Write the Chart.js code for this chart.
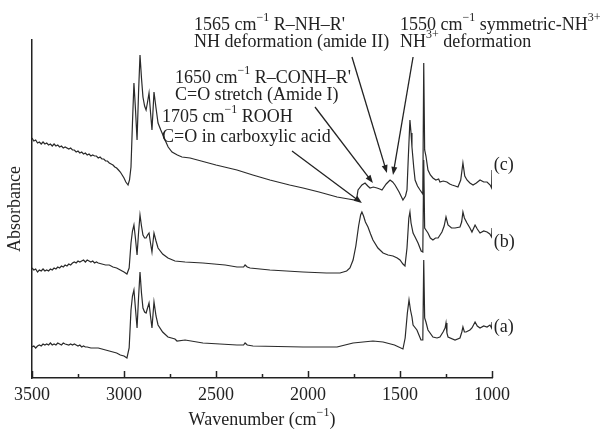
<!DOCTYPE html>
<html>
<head>
<meta charset="utf-8">
<script src="https://cdn.jsdelivr.net/npm/chart.js@4/dist/chart.umd.min.js"></script>
<style>
  body { margin: 0; background: #fff; }
</style>
</head>
<body>
<canvas id="myChart" width="607" height="432"></canvas>
<script>
//--Spectra data (wavenumber cm-1 / absorbance a.u.)--//
const waveC = [3500,3490,3480,3470,3460,3450,3440,3430,3420,3410,3400,3390,3380,3370,3360,3350,3340,3330,3320,3300,3290,3280,3270,3260,3250,3240,3230,3220,3210,3200,3190,3180,3170,3160,3150,3140,3130,3120,3110,3100,3090,3080,3070,3060,3050,3040,3030,3020,3010,3000,2990,2978,2970,2962,2954,2946,2938,2929,2921,2913,2905,2897,2888,2880,2872,2864,2856,2848,2843,2837,2826,2815,2800,2777,2760,2739,2710,2685,2641,2500,2386,2300,2207,2100,2027,1940,1842,1780,1745,1735,1728,1707,1690,1675,1663,1645,1625,1610,1598,1575,1554,1540,1527,1505,1484,1470,1462,1455,1446,1440,1435,1425,1418,1405,1391,1376,1371,1366,1359,1348,1335,1321,1305,1290,1283,1265,1245,1230,1217,1200,1185,1170,1158,1148,1136,1120,1103,1085,1065,1045,1027,1010,1002,1000];
const absC = [2.40,2.37,2.38,2.35,2.36,2.34,2.36,2.34,2.35,2.33,2.34,2.32,2.34,2.32,2.33,2.31,2.32,2.30,2.31,2.29,2.30,2.28,2.28,2.26,2.27,2.25,2.26,2.24,2.25,2.23,2.24,2.22,2.23,2.22,2.22,2.20,2.21,2.19,2.19,2.17,2.17,2.15,2.14,2.13,2.11,2.10,2.08,2.06,2.03,2.00,1.96,1.93,1.98,2.11,2.55,2.95,2.70,2.38,2.85,3.23,3.00,2.81,2.72,2.68,2.76,2.85,2.66,2.48,2.65,2.86,2.70,2.55,2.48,2.38,2.31,2.26,2.23,2.21,2.20,2.13,2.08,2.03,1.98,1.93,1.90,1.86,1.81,1.79,1.78,1.80,1.88,1.93,1.95,1.92,1.90,1.91,1.90,1.89,1.88,1.94,1.98,1.96,1.93,1.86,1.78,1.82,1.88,2.20,2.58,2.45,2.31,2.10,1.98,1.92,1.88,1.84,3.15,2.28,2.22,2.08,2.03,2.00,1.98,1.99,1.96,1.97,1.96,1.94,1.93,1.92,1.91,1.98,2.15,2.02,1.98,1.95,1.93,1.95,1.98,1.96,1.96,1.93,1.90,2.08];

const waveB = [3500,3490,3480,3470,3460,3450,3440,3430,3420,3410,3400,3390,3380,3370,3360,3350,3340,3330,3320,3310,3300,3290,3280,3270,3260,3250,3240,3230,3220,3210,3200,3190,3180,3170,3160,3150,3140,3120,3100,3080,3060,3040,3020,3000,2984,2972,2962,2954,2946,2938,2929,2921,2913,2905,2897,2888,2880,2872,2864,2856,2848,2843,2837,2826,2815,2790,2761,2723,2668,2571,2450,2386,2350,2342,2330,2315,2207,2027,1900,1826,1790,1772,1755,1740,1725,1714,1707,1698,1688,1674,1660,1647,1620,1592,1565,1538,1515,1500,1484,1473,1462,1452,1446,1440,1429,1418,1402,1385,1376,1371,1366,1359,1348,1335,1321,1307,1293,1272,1260,1250,1239,1220,1201,1174,1165,1158,1150,1136,1120,1109,1092,1080,1065,1045,1027,1012,1002,1000];
const absB = [1.10,1.08,1.09,1.06,1.08,1.07,1.09,1.07,1.08,1.07,1.09,1.08,1.10,1.09,1.11,1.10,1.12,1.11,1.13,1.12,1.14,1.13,1.15,1.16,1.15,1.17,1.16,1.17,1.18,1.16,1.18,1.17,1.16,1.17,1.15,1.16,1.15,1.14,1.13,1.13,1.11,1.10,1.08,1.06,1.04,1.10,1.35,1.47,1.53,1.40,1.23,1.45,1.63,1.52,1.43,1.40,1.40,1.43,1.45,1.35,1.26,1.35,1.45,1.37,1.30,1.24,1.20,1.17,1.16,1.15,1.13,1.11,1.11,1.13,1.11,1.10,1.08,1.06,1.05,1.05,1.07,1.10,1.18,1.32,1.52,1.63,1.66,1.62,1.56,1.51,1.44,1.38,1.30,1.25,1.23,1.22,1.20,1.18,1.14,1.12,1.30,1.60,1.66,1.55,1.45,1.41,1.35,1.27,1.26,2.18,1.50,1.48,1.45,1.40,1.38,1.40,1.40,1.46,1.52,1.61,1.53,1.50,1.50,1.51,1.56,1.66,1.60,1.55,1.50,1.46,1.53,1.49,1.45,1.47,1.46,1.44,1.41,1.50];

const waveA = [3500,3490,3480,3470,3460,3450,3440,3430,3420,3410,3400,3390,3380,3370,3360,3350,3340,3330,3320,3300,3290,3280,3270,3260,3250,3240,3230,3220,3210,3200,3180,3160,3140,3120,3100,3080,3060,3040,3020,3000,2984,2972,2962,2954,2946,2938,2929,2921,2913,2905,2897,2888,2880,2872,2864,2856,2848,2843,2837,2826,2815,2790,2761,2723,2712,2668,2571,2386,2350,2342,2330,2299,2027,1842,1755,1701,1647,1592,1530,1484,1472,1460,1451,1443,1435,1429,1408,1386,1376,1371,1366,1359,1348,1321,1299,1283,1266,1255,1250,1245,1239,1201,1174,1164,1158,1150,1141,1120,1109,1092,1080,1065,1045,1027,1011,1002,1000];
const absA = [0.31,0.32,0.30,0.32,0.33,0.32,0.34,0.33,0.34,0.33,0.35,0.33,0.34,0.33,0.35,0.34,0.33,0.35,0.34,0.33,0.34,0.33,0.34,0.33,0.32,0.33,0.31,0.32,0.31,0.31,0.30,0.30,0.30,0.29,0.28,0.27,0.26,0.25,0.23,0.22,0.20,0.30,0.68,0.82,0.88,0.70,0.50,0.80,1.06,0.85,0.70,0.66,0.65,0.70,0.75,0.62,0.50,0.62,0.76,0.62,0.53,0.46,0.41,0.39,0.37,0.38,0.35,0.33,0.33,0.35,0.33,0.32,0.31,0.31,0.35,0.36,0.37,0.36,0.33,0.29,0.40,0.65,0.78,0.68,0.61,0.53,0.48,0.38,0.38,1.18,0.60,0.56,0.48,0.41,0.40,0.41,0.46,0.50,0.55,0.45,0.41,0.38,0.40,0.46,0.51,0.46,0.46,0.48,0.50,0.56,0.52,0.50,0.52,0.51,0.53,0.50,0.56];

const seriesNames = ['(a)', '(b)', '(c)'];
const xTicks = [3500, 3000, 2500, 2000, 1500, 1000];

// annotation texts: [text, isSuperscript] pieces, anchored in data units
const notes = [
  { at: [2620, 3.53], parts: [['1565 cm'], ['\u22121', 1], [" R\u2013NH\u2013R'"]] },
  { at: [2620, 3.36], parts: [['NH deformation (amide II)']] },
  { at: [1500, 3.53], parts: [['1550 cm'], ['\u22121', 1], [' symmetric-NH'], ['3+', 1]] },
  { at: [1500, 3.36], parts: [['NH'], ['3+', 1], [' deformation']] },
  { at: [2723, 3.00], parts: [['1650 cm'], ['\u22121', 1], [" R\u2013CONH\u2013R'"]] },
  { at: [2723, 2.83], parts: [['C=O stretch (Amide I)']] },
  { at: [2793, 2.61], parts: [['1705 cm'], ['\u22121', 1], [' ROOH']] },
  { at: [2793, 2.41], parts: [['C=O in carboxylic acid']] },
];
// arrows: from [wave, abs] to [wave, abs]
const arrows = [
  [[2087, 2.27], [1707, 1.75]],
  [[1962, 2.71], [1647, 1.95]],
  [[1761, 3.21], [1571, 2.05]],
  [[1429, 3.21], [1538, 2.03]],
];
const curveLabelPos = [[990, 0.51], [990, 1.36], [990, 2.13]];

const FONT = "'Liberation Serif', 'Times New Roman', serif";
const FS = 18;

function toPoints(w, a) {
  return w.map((x, i) => ({ x: x, y: a[i] }));
}

function drawRich(ctx, x, y, parts, size) {
  let cx = x;
  parts.forEach(p => {
    const sup = p[1];
    ctx.font = (sup ? Math.round(size * 0.65) : size) + 'px ' + FONT;
    ctx.fillText(p[0], cx, sup ? y - size * 0.38 : y);
    cx += ctx.measureText(p[0]).width;
  });
  return cx - x;
}

const decorations = {
  id: 'decorations',
  afterDraw(chart) {
    const ctx = chart.ctx;
    const xs = chart.scales.x, ys = chart.scales.y;
    const area = chart.chartArea;
    ctx.save();
    ctx.strokeStyle = '#222';
    ctx.fillStyle = '#222';
    // inward ticks
    ctx.lineWidth = 1.5;
    for (let v = 1000; v <= 3500; v += 250) {
      const px = Math.round(xs.getPixelForValue(v)) + 0.5;
      const len = v % 500 === 0 ? 7 : 4;
      ctx.beginPath();
      ctx.moveTo(px, area.bottom);
      ctx.lineTo(px, area.bottom - len);
      ctx.stroke();
    }
    // annotation text
    ctx.textBaseline = 'middle';
    ctx.textAlign = 'left';
    notes.forEach(n => {
      drawRich(ctx, xs.getPixelForValue(n.at[0]), ys.getPixelForValue(n.at[1]), n.parts, FS);
    });
    // arrows
    ctx.lineWidth = 1.3;
    arrows.forEach(a => {
      const x1 = xs.getPixelForValue(a[0][0]), y1 = ys.getPixelForValue(a[0][1]);
      const x2 = xs.getPixelForValue(a[1][0]), y2 = ys.getPixelForValue(a[1][1]);
      const ang = Math.atan2(y2 - y1, x2 - x1);
      const hl = 8, hw = 3;
      ctx.beginPath();
      ctx.moveTo(x1, y1);
      ctx.lineTo(x2 - Math.cos(ang) * hl * 0.7, y2 - Math.sin(ang) * hl * 0.7);
      ctx.stroke();
      ctx.beginPath();
      ctx.moveTo(x2, y2);
      ctx.lineTo(x2 - Math.cos(ang) * hl - Math.sin(ang) * hw, y2 - Math.sin(ang) * hl + Math.cos(ang) * hw);
      ctx.lineTo(x2 - Math.cos(ang) * hl + Math.sin(ang) * hw, y2 - Math.sin(ang) * hl - Math.cos(ang) * hw);
      ctx.closePath();
      ctx.fill();
    });
    // curve labels
    seriesNames.forEach((s, i) => {
      drawRich(ctx, xs.getPixelForValue(curveLabelPos[i][0]), ys.getPixelForValue(curveLabelPos[i][1]), [[s]], FS);
    });
    // axis titles
    const xTitle = [['Wavenumber (cm'], ['\u22121', 1], [')']];
    ctx.globalAlpha = 0;
    const tw = drawRich(ctx, 0, 0, xTitle, FS);
    ctx.globalAlpha = 1;
    drawRich(ctx, (area.left + area.right) / 2 - tw / 2, 420, xTitle, FS);
    ctx.translate(15, (area.top + area.bottom) / 2);
    ctx.rotate(-Math.PI / 2);
    ctx.textAlign = 'center';
    ctx.font = FS + 'px ' + FONT;
    ctx.fillText('Absorbance', 0, 0);
    ctx.restore();
  }
};

const lineStyle = { borderColor: '#2a2a2a', borderWidth: 1.2, pointRadius: 0, fill: false, tension: 0 };

new Chart(document.getElementById('myChart').getContext('2d'), {
  type: 'line',
  data: {
    datasets: [
      Object.assign({ label: seriesNames[0], data: toPoints(waveA, absA) }, lineStyle),
      Object.assign({ label: seriesNames[1], data: toPoints(waveB, absB) }, lineStyle),
      Object.assign({ label: seriesNames[2], data: toPoints(waveC, absC) }, lineStyle),
    ]
  },
  options: {
    responsive: false,
    animation: false,
    layout: { padding: { top: 40, right: 115, left: 0, bottom: 0 } },
    plugins: { legend: { display: false }, tooltip: { enabled: false } },
    scales: {
      x: {
        type: 'linear',
        reverse: true,
        min: 1000,
        max: 3500,
        afterFit(scale) { scale.height = 54; },
        afterBuildTicks(scale) { scale.ticks = xTicks.map(v => ({ value: v })); },
        grid: { display: true, drawOnChartArea: false, drawTicks: false },
        border: { display: true, color: '#222', width: 1.5 },
        ticks: {
          padding: 6,
          maxRotation: 0,
          autoSkip: false,
          color: '#222',
          font: { family: FONT, size: FS },
          callback: v => String(v)
        }
      },
      y: {
        min: 0,
        max: 3.38,
        afterFit(scale) { scale.width = 32; },
        grid: { display: false },
        border: { display: true, color: '#222', width: 1.5 },
        ticks: { display: false }
      }
    }
  },
  plugins: [decorations]
});
</script>
</body>
</html>
